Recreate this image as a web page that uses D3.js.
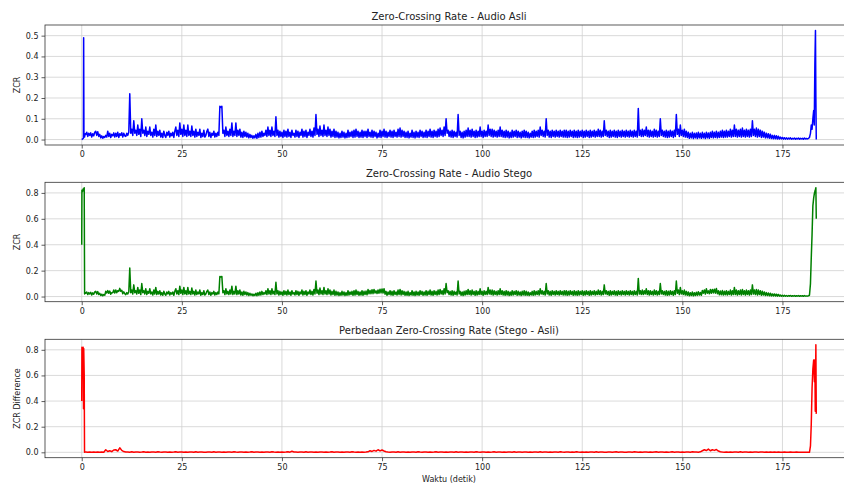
<!DOCTYPE html>
<html>
<head>
<meta charset="utf-8">
<script src="https://cdn.jsdelivr.net/npm/d3@7"></script>
<style>
body { margin: 0; background: #fff; }
svg { display: block; font-family: "DejaVu Sans", sans-serif; }
</style>
</head>
<body>
<div id="chart"></div>
<script>
// body frames start at 1.0 s; ZCR bodies every 0.25 s, difference every 0.5 s
var bodyStart = 1.0;
var zcrHop = 0.25;
var diffHop = 0.5;

var xTicks = [0, 25, 50, 75, 100, 125, 150, 175];
var yTicksAsli = [0, 0.1, 0.2, 0.3, 0.4, 0.5];
var yTicksStego = [0, 0.2, 0.4, 0.6, 0.8];
var yTicksDiff = [0, 0.2, 0.4, 0.6, 0.8];

// --- Audio Asli ---
var asliHeadTime = [0.0, 0.15, 0.3, 0.42, 0.48, 0.55, 0.7, 0.85];
var asliHeadZcr = [0.0, 0.002, 0.004, 0.006, 0.49, 0.03, 0.012, 0.028];
var asliBody = [
	// 1-10.75
	0.025,0.035,0.015,0.03,0.02,0.032,0.012,0.028,0.018,0.035, 0.04,0.02,0.038,0.015,0.025,0.008,0.018,0.006,0.015,0.01,
	0.02,0.012,0.04,0.015,0.03,0.01,0.025,0.018,0.032,0.012, 0.03,0.015,0.035,0.01,0.028,0.02,0.033,0.012,0.03,0.018,
	// 11-20.75
	0.015,0.03,0.02,0.035,0.22,0.03,0.05,0.02,0.09,0.03, 0.045,0.02,0.07,0.025,0.05,0.015,0.10,0.03,0.045,0.02,
	0.06,0.015,0.04,0.025,0.06,0.02,0.035,0.012,0.05,0.02, 0.07,0.015,0.04,0.02,0.045,0.012,0.03,0.01,0.04,0.02,
	// 21-30.75
	0.01,0.035,0.02,0.04,0.012,0.03,0.018,0.035,0.01,0.04, 0.06,0.02,0.045,0.015,0.08,0.025,0.05,0.015,0.07,0.02,
	0.045,0.015,0.07,0.02,0.04,0.015,0.065,0.02,0.04,0.012, 0.05,0.015,0.035,0.02,0.05,0.01,0.03,0.015,0.045,0.012,
	// 31-40.75
	0.02,0.04,0.05,0.015,0.035,0.01,0.03,0.02,0.04,0.012, 0.03,0.015,0.035,0.02,0.16,0.155,0.16,0.03,0.045,0.015,
	0.06,0.02,0.04,0.015,0.05,0.02,0.08,0.015,0.04,0.02, 0.08,0.015,0.045,0.02,0.05,0.012,0.035,0.01,0.04,0.015,
	// 41-50.75
	0.035,0.012,0.03,0.008,0.025,0.01,0.02,0.006,0.018,0.008, 0.025,0.006,0.03,0.01,0.035,0.012,0.04,0.015,0.03,0.02,
	0.045,0.015,0.06,0.02,0.045,0.015,0.06,0.02,0.04,0.015, 0.11,0.02,0.045,0.012,0.04,0.015,0.035,0.01,0.045,0.015,
	// 51-60.75
	0.04,0.012,0.05,0.015,0.035,0.01,0.045,0.02,0.03,0.012, 0.045,0.015,0.04,0.01,0.035,0.02,0.05,0.012,0.04,0.015,
	0.045,0.01,0.035,0.02,0.05,0.015,0.04,0.012,0.055,0.02, 0.12,0.025,0.05,0.015,0.065,0.02,0.045,0.015,0.07,0.02,
	// 61-70.75
	0.045,0.015,0.06,0.02,0.05,0.012,0.04,0.015,0.05,0.01, 0.04,0.012,0.035,0.008,0.03,0.01,0.04,0.012,0.035,0.008,
	0.03,0.01,0.045,0.012,0.035,0.015,0.04,0.01,0.045,0.012, 0.05,0.015,0.04,0.01,0.035,0.012,0.045,0.01,0.04,0.015,
	// 71-80.75
	0.04,0.01,0.05,0.015,0.035,0.012,0.045,0.01,0.04,0.015, 0.035,0.008,0.03,0.012,0.045,0.01,0.04,0.015,0.05,0.012,
	0.04,0.01,0.035,0.015,0.045,0.012,0.04,0.01,0.045,0.015, 0.035,0.012,0.05,0.015,0.055,0.012,0.045,0.015,0.04,0.01,
	// 81-90.75
	0.035,0.01,0.04,0.008,0.03,0.012,0.045,0.01,0.035,0.008, 0.04,0.012,0.035,0.01,0.045,0.015,0.04,0.01,0.035,0.012,
	0.045,0.01,0.04,0.015,0.05,0.012,0.04,0.01,0.045,0.015, 0.04,0.012,0.05,0.015,0.055,0.02,0.045,0.015,0.06,0.02,
	// 91-100.75
	0.10,0.03,0.045,0.015,0.04,0.012,0.045,0.01,0.04,0.015, 0.035,0.012,0.12,0.02,0.04,0.01,0.035,0.008,0.04,0.012,
	0.045,0.015,0.055,0.015,0.045,0.012,0.05,0.015,0.04,0.01, 0.045,0.012,0.04,0.015,0.06,0.015,0.04,0.01,0.045,0.015,
	// 101-110.75
	0.04,0.015,0.07,0.02,0.05,0.015,0.05,0.012,0.045,0.015, 0.04,0.012,0.045,0.015,0.06,0.015,0.045,0.012,0.04,0.01,
	0.045,0.012,0.04,0.008,0.035,0.01,0.045,0.012,0.04,0.015, 0.045,0.01,0.04,0.012,0.035,0.008,0.04,0.012,0.045,0.01,
	// 111-120.75
	0.04,0.01,0.035,0.008,0.03,0.012,0.04,0.01,0.045,0.012, 0.04,0.015,0.045,0.012,0.06,0.02,0.045,0.015,0.04,0.012,
	0.10,0.02,0.045,0.012,0.04,0.01,0.045,0.015,0.04,0.012, 0.045,0.015,0.04,0.012,0.045,0.015,0.04,0.012,0.045,0.012,
	// 121-130.75
	0.045,0.01,0.04,0.012,0.045,0.015,0.04,0.01,0.045,0.012, 0.04,0.01,0.045,0.012,0.04,0.015,0.045,0.01,0.04,0.012,
	0.045,0.015,0.04,0.01,0.045,0.012,0.04,0.015,0.045,0.012, 0.04,0.015,0.05,0.015,0.045,0.012,0.04,0.015,0.09,0.02,
	// 131-140.75
	0.045,0.015,0.04,0.01,0.045,0.012,0.04,0.015,0.045,0.012, 0.04,0.01,0.045,0.015,0.04,0.012,0.045,0.015,0.04,0.012,
	0.045,0.015,0.04,0.012,0.045,0.015,0.04,0.012,0.045,0.015, 0.04,0.012,0.15,0.02,0.045,0.015,0.05,0.015,0.045,0.02,
	// 141-150.75
	0.06,0.015,0.045,0.012,0.045,0.015,0.04,0.012,0.05,0.015, 0.045,0.012,0.04,0.015,0.10,0.02,0.045,0.015,0.04,0.012,
	0.045,0.01,0.04,0.012,0.045,0.015,0.04,0.01,0.045,0.015, 0.12,0.025,0.05,0.015,0.07,0.02,0.045,0.015,0.05,0.012,
	// 151-160.75
	0.04,0.01,0.035,0.006,0.03,0.008,0.035,0.005,0.03,0.008, 0.032,0.005,0.035,0.008,0.03,0.006,0.035,0.008,0.03,0.005,
	0.035,0.008,0.032,0.006,0.035,0.01,0.04,0.008,0.035,0.01, 0.04,0.008,0.035,0.01,0.04,0.012,0.045,0.01,0.04,0.012,
	// 161-170.75
	0.045,0.012,0.04,0.015,0.05,0.012,0.045,0.015,0.07,0.015, 0.05,0.012,0.045,0.015,0.05,0.012,0.055,0.015,0.045,0.012,
	0.05,0.015,0.045,0.012,0.05,0.015,0.09,0.02,0.05,0.015, 0.055,0.012,0.05,0.015,0.045,0.01,0.04,0.012,0.035,0.008,
	// 171-180.75
	0.03,0.008,0.028,0.006,0.025,0.005,0.02,0.004,0.02,0.004, 0.018,0.003,0.016,0.003,0.012,0.003,0.01,0.002,0.009,0.002,
	0.008,0.002,0.007,0.003,0.008,0.002,0.006,0.003,0.007,0.002, 0.006,0.003,0.007,0.002,0.006,0.003,0.006,0.002,0.007,0.003,
	// 181-181.5
	0.005,0.003,0.006
];
var asliTailTime = [181.75, 182.0, 182.2, 182.4, 182.6, 182.8, 182.95, 183.1, 183.25, 183.35, 183.45];
var asliTailZcr = [0.01, 0.03, 0.07, 0.05, 0.1, 0.14, 0.07, 0.36, 0.525, 0.2, 0.0];

// --- Audio Stego ---
var stegoHeadTime = [0.0, 0.05, 0.2, 0.35, 0.5, 0.62, 0.72, 0.85];
var stegoHeadZcr = [0.40, 0.82, 0.81, 0.83, 0.82, 0.84, 0.02, 0.03];
var stegoBody = [
	// 1-10.75
	0.025,0.035,0.015,0.03,0.02,0.032,0.012,0.028,0.018,0.035, 0.04,0.02,0.038,0.015,0.025,0.008,0.018,0.006,0.015,0.01,
	0.04,0.027,0.046,0.025,0.042,0.018,0.03,0.03,0.05,0.027, 0.05,0.03,0.045,0.04,0.063,0.04,0.048,0.022,0.036,0.022,
	// 11-20.75
	0.015,0.03,0.02,0.035,0.22,0.03,0.05,0.02,0.09,0.03, 0.045,0.02,0.07,0.025,0.05,0.015,0.10,0.03,0.045,0.02,
	0.06,0.015,0.04,0.025,0.06,0.02,0.035,0.012,0.05,0.02, 0.07,0.015,0.04,0.02,0.045,0.012,0.03,0.01,0.04,0.02,
	// 21-30.75
	0.01,0.035,0.02,0.04,0.012,0.03,0.018,0.035,0.01,0.04, 0.06,0.02,0.045,0.015,0.08,0.025,0.05,0.015,0.07,0.02,
	0.045,0.015,0.07,0.02,0.04,0.015,0.065,0.02,0.04,0.012, 0.05,0.015,0.035,0.02,0.05,0.01,0.03,0.015,0.045,0.012,
	// 31-40.75
	0.02,0.04,0.05,0.015,0.035,0.01,0.03,0.02,0.04,0.012, 0.03,0.015,0.035,0.02,0.155,0.15,0.155,0.03,0.045,0.015,
	0.06,0.02,0.04,0.015,0.05,0.02,0.08,0.015,0.04,0.02, 0.08,0.015,0.045,0.02,0.05,0.012,0.035,0.01,0.04,0.015,
	// 41-50.75
	0.035,0.012,0.03,0.008,0.025,0.01,0.02,0.006,0.018,0.008, 0.025,0.006,0.03,0.01,0.035,0.012,0.04,0.015,0.03,0.02,
	0.045,0.015,0.06,0.02,0.045,0.015,0.06,0.02,0.04,0.015, 0.11,0.02,0.045,0.012,0.04,0.015,0.035,0.01,0.045,0.015,
	// 51-60.75
	0.04,0.012,0.05,0.015,0.035,0.01,0.045,0.02,0.03,0.012, 0.045,0.015,0.04,0.01,0.035,0.02,0.05,0.012,0.04,0.015,
	0.045,0.01,0.035,0.02,0.05,0.015,0.04,0.012,0.055,0.02, 0.12,0.025,0.05,0.015,0.065,0.02,0.045,0.015,0.07,0.02,
	// 61-70.75
	0.045,0.015,0.06,0.02,0.05,0.012,0.04,0.015,0.05,0.01, 0.04,0.012,0.035,0.008,0.03,0.01,0.04,0.012,0.035,0.008,
	0.03,0.01,0.045,0.012,0.035,0.015,0.04,0.01,0.045,0.012, 0.05,0.015,0.04,0.01,0.035,0.012,0.045,0.01,0.04,0.015,
	// 71-80.75
	0.042,0.013,0.054,0.021,0.047,0.022,0.052,0.022,0.055,0.027, 0.044,0.023,0.05,0.026,0.056,0.028,0.058,0.027,0.06,0.018,
	0.04,0.01,0.035,0.015,0.045,0.012,0.04,0.01,0.045,0.015, 0.035,0.012,0.05,0.015,0.055,0.012,0.045,0.015,0.04,0.01,
	// 81-90.75
	0.035,0.01,0.04,0.008,0.03,0.012,0.045,0.01,0.035,0.008, 0.04,0.012,0.035,0.01,0.045,0.015,0.04,0.01,0.035,0.012,
	0.045,0.01,0.04,0.015,0.05,0.012,0.04,0.01,0.045,0.015, 0.04,0.012,0.05,0.015,0.055,0.02,0.045,0.015,0.06,0.02,
	// 91-100.75
	0.10,0.03,0.045,0.015,0.04,0.012,0.045,0.01,0.04,0.015, 0.035,0.012,0.12,0.02,0.04,0.01,0.035,0.008,0.04,0.012,
	0.045,0.015,0.055,0.015,0.045,0.012,0.05,0.015,0.04,0.01, 0.045,0.012,0.04,0.015,0.06,0.015,0.04,0.01,0.045,0.015,
	// 101-110.75
	0.04,0.015,0.07,0.02,0.05,0.015,0.05,0.012,0.045,0.015, 0.04,0.012,0.045,0.015,0.06,0.015,0.045,0.012,0.04,0.01,
	0.045,0.012,0.04,0.008,0.035,0.01,0.045,0.012,0.04,0.015, 0.045,0.01,0.04,0.012,0.035,0.008,0.04,0.012,0.045,0.01,
	// 111-120.75
	0.04,0.01,0.035,0.008,0.03,0.012,0.04,0.01,0.045,0.012, 0.04,0.015,0.045,0.012,0.06,0.02,0.045,0.015,0.04,0.012,
	0.10,0.02,0.045,0.012,0.04,0.01,0.045,0.015,0.04,0.012, 0.045,0.015,0.04,0.012,0.045,0.015,0.04,0.012,0.045,0.012,
	// 121-130.75
	0.045,0.01,0.04,0.012,0.045,0.015,0.04,0.01,0.045,0.012, 0.04,0.01,0.045,0.012,0.04,0.015,0.045,0.01,0.04,0.012,
	0.045,0.015,0.04,0.01,0.045,0.012,0.04,0.015,0.045,0.012, 0.04,0.015,0.05,0.015,0.045,0.012,0.04,0.015,0.09,0.02,
	// 131-140.75
	0.045,0.015,0.04,0.01,0.045,0.012,0.04,0.015,0.045,0.012, 0.04,0.01,0.045,0.015,0.04,0.012,0.045,0.015,0.04,0.012,
	0.045,0.015,0.04,0.012,0.045,0.015,0.04,0.012,0.045,0.015, 0.04,0.012,0.14,0.02,0.045,0.015,0.05,0.015,0.045,0.02,
	// 141-150.75
	0.06,0.015,0.045,0.012,0.045,0.015,0.04,0.012,0.05,0.015, 0.045,0.012,0.04,0.015,0.10,0.02,0.045,0.015,0.04,0.012,
	0.045,0.01,0.04,0.012,0.045,0.015,0.04,0.01,0.045,0.015, 0.12,0.025,0.05,0.015,0.07,0.02,0.045,0.015,0.05,0.012,
	// 151-160.75
	0.04,0.01,0.035,0.006,0.03,0.008,0.035,0.005,0.03,0.008, 0.033,0.009,0.037,0.011,0.031,0.01,0.047,0.026,0.05,0.019,
	0.06,0.026,0.044,0.022,0.055,0.025,0.055,0.028,0.057,0.026, 0.062,0.022,0.045,0.014,0.042,0.014,0.046,0.011,0.041,0.013,
	// 161-170.75
	0.045,0.012,0.04,0.015,0.05,0.012,0.045,0.015,0.07,0.015, 0.05,0.012,0.045,0.015,0.05,0.012,0.055,0.015,0.045,0.012,
	0.05,0.015,0.045,0.012,0.05,0.015,0.09,0.02,0.05,0.015, 0.055,0.012,0.05,0.015,0.045,0.01,0.04,0.012,0.035,0.008,
	// 171-180.75
	0.03,0.008,0.028,0.006,0.025,0.005,0.02,0.004,0.02,0.004, 0.018,0.003,0.016,0.003,0.012,0.003,0.01,0.002,0.009,0.002,
	0.008,0.002,0.007,0.003,0.008,0.002,0.006,0.003,0.007,0.002, 0.006,0.003,0.007,0.002,0.006,0.003,0.006,0.002,0.007,0.003,
	// 181-181.5
	0.005,0.003,0.006
];
var stegoTailTime = [181.75, 182.0, 182.2, 182.4, 182.6, 182.8, 183.0, 183.2, 183.35, 183.45];
var stegoTailZcr = [0.01, 0.1, 0.3, 0.48, 0.7, 0.76, 0.8, 0.82, 0.84, 0.6];

// --- Perbedaan (Stego - Asli) ---
var diffHeadTime = [0.0, 0.05, 0.2, 0.35, 0.45, 0.5, 0.62, 0.7, 0.85];
var diffHeadZcr = [0.40, 0.82, 0.80, 0.82, 0.34, 0.81, 0.61, 0.0, 0.002];
var diffBody = [
	0.002,0.0,0.003,0.001,0.002,0.0,0.003,0.001,0.002,0.001,0.02,0.006,0.012,0.005,0.018,0.02,0.01,0.035,0.015,0.006, // 1-10.5
	0.002,0.003,0.001,0.004,0.0,0.002,0.003,0.001,0.002,0.004,0.001,0.002,0.0,0.003,0.002,0.001,0.004,0.002,0.001,0.003, // 11-20.5
	0.002,0.0,0.003,0.001,0.002,0.004,0.001,0.002,0.003,0.0,0.002,0.001,0.003,0.002,0.0,0.004,0.001,0.002,0.003,0.001, // 21-30.5
	0.001,0.003,0.002,0.0,0.004,0.001,0.002,0.003,0.001,0.002,0.0,0.003,0.002,0.001,0.004,0.002,0.001,0.003,0.002,0.0, // 31-40.5
	0.003,0.001,0.002,0.004,0.0,0.002,0.003,0.001,0.002,0.0,0.003,0.002,0.001,0.004,0.002,0.001,0.003,0.0,0.002,0.001, // 41-50.5
	0.002,0.004,0.001,0.008,0.003,0.002,0.001,0.003,0.002,0.0,0.004,0.001,0.002,0.003,0.001,0.002,0.0,0.003,0.002,0.001, // 51-60.5
	0.003,0.001,0.002,0.004,0.0,0.002,0.003,0.001,0.002,0.0,0.003,0.002,0.001,0.004,0.002,0.001,0.003,0.0,0.002,0.001, // 61-70.5
	0.002,0.004,0.012,0.007,0.015,0.009,0.02,0.011,0.018,0.01,0.004,0.002,0.001,0.003,0.002,0.0,0.004,0.001,0.002,0.003, // 71-80.5
	0.001,0.002,0.0,0.003,0.002,0.001,0.004,0.002,0.001,0.003,0.002,0.0,0.003,0.001,0.002,0.004,0.001,0.002,0.003,0.0, // 81-90.5
	0.002,0.001,0.003,0.002,0.0,0.004,0.001,0.002,0.003,0.001,0.002,0.0,0.003,0.002,0.001,0.004,0.002,0.001,0.003,0.002, // 91-100.5
	0.0,0.003,0.001,0.002,0.004,0.001,0.002,0.003,0.0,0.002,0.001,0.003,0.002,0.0,0.004,0.001,0.002,0.003,0.001,0.002, // 101-110.5
	0.003,0.0,0.002,0.001,0.003,0.002,0.0,0.004,0.001,0.002,0.003,0.001,0.002,0.0,0.003,0.002,0.001,0.004,0.002,0.001, // 111-120.5
	0.002,0.003,0.0,0.002,0.001,0.004,0.002,0.001,0.003,0.0,0.002,0.001,0.003,0.002,0.0,0.004,0.001,0.002,0.003,0.001, // 121-130.5
	0.001,0.002,0.003,0.0,0.002,0.004,0.001,0.002,0.003,0.001,0.0,0.002,0.003,0.001,0.004,0.002,0.0,0.003,0.001,0.002, // 131-140.5
	0.002,0.001,0.003,0.0,0.002,0.004,0.001,0.003,0.002,0.0,0.003,0.001,0.002,0.004,0.001,0.002,0.003,0.0,0.002,0.001, // 141-150.5
	0.002,0.003,0.001,0.004,0.002,0.003,0.001,0.004,0.012,0.02,0.014,0.025,0.012,0.02,0.015,0.022,0.01,0.004,0.002,0.001, // 151-160.5
	0.003,0.0,0.002,0.001,0.003,0.002,0.0,0.004,0.001,0.002,0.003,0.001,0.002,0.0,0.003,0.002,0.001,0.003,0.002,0.0, // 161-170.5
	0.002,0.001,0.003,0.0,0.002,0.001,0.002,0.0,0.001,0.002,0.0,0.001,0.002,0.0,0.001,0.002,0.0,0.001,0.001,0.0, // 171-180.5
	0.001,0.0 // 181-181.5
];
var diffTailTime = [181.75, 182.0, 182.2, 182.4, 182.6, 182.8, 183.0, 183.1, 183.2, 183.35, 183.45];
var diffTailZcr = [0.0, 0.05, 0.22, 0.5, 0.65, 0.72, 0.55, 0.72, 0.32, 0.84, 0.3];

function buildSeries(headT, headV, body, step, tailT, tailV) {
	var out = [];
	headT.forEach(function (t, i) { out.push({ t: t, v: headV[i] }); });
	body.forEach(function (v, i) { out.push({ t: bodyStart + i * step, v: v }); });
	tailT.forEach(function (t, i) { out.push({ t: t, v: tailV[i] }); });
	return out;
}

var panels = [
	{
		title: "Zero-Crossing Rate - Audio Asli", ylabel: "ZCR", color: "#0000ff",
		data: buildSeries(asliHeadTime, asliHeadZcr, asliBody, zcrHop, asliTailTime, asliTailZcr),
		yTicks: yTicksAsli, top: 25, bottom: 145
	},
	{
		title: "Zero-Crossing Rate - Audio Stego", ylabel: "ZCR", color: "#008000",
		data: buildSeries(stegoHeadTime, stegoHeadZcr, stegoBody, zcrHop, stegoTailTime, stegoTailZcr),
		yTicks: yTicksStego, top: 182.3, bottom: 301.7
	},
	{
		title: "Perbedaan Zero-Crossing Rate (Stego - Asli)", ylabel: "ZCR Difference", color: "#ff0000",
		data: buildSeries(diffHeadTime, diffHeadZcr, diffBody, diffHop, diffTailTime, diffTailZcr),
		yTicks: yTicksDiff, top: 339.3, bottom: 457.7
	}
];

var width = 844, height = 484;
var left = 45, right = 853;

var svg = d3.select("#chart").append("svg")
	.attr("width", width)
	.attr("height", height);

// matplotlib-like 5% margins on the data extent
function padded(ext) {
	var p = (ext[1] - ext[0]) * 0.05;
	return [ext[0] - p, ext[1] + p];
}

panels.forEach(function (p, k) {
	var x = d3.scaleLinear()
		.domain(padded(d3.extent(p.data, function (d) { return d.t; })))
		.range([left, right]);
	var y = d3.scaleLinear()
		.domain(padded(d3.extent(p.data, function (d) { return d.v; })))
		.range([p.bottom, p.top]);

	var g = svg.append("g");

	// grid
	g.selectAll(".gx").data(xTicks).enter().append("line")
		.attr("x1", function (d) { return x(d); })
		.attr("x2", function (d) { return x(d); })
		.attr("y1", p.top).attr("y2", p.bottom)
		.attr("stroke", "#d0d0d0").attr("stroke-width", 0.8);
	g.selectAll(".gy").data(p.yTicks).enter().append("line")
		.attr("x1", left).attr("x2", right)
		.attr("y1", function (d) { return y(d); })
		.attr("y2", function (d) { return y(d); })
		.attr("stroke", "#d0d0d0").attr("stroke-width", 0.8);

	g.append("clipPath").attr("id", "clip" + k)
		.append("rect")
		.attr("x", left).attr("y", p.top)
		.attr("width", right - left).attr("height", p.bottom - p.top);

	var line = d3.line()
		.x(function (d) { return x(d.t); })
		.y(function (d) { return y(d.v); });

	g.append("path")
		.datum(p.data)
		.attr("clip-path", "url(#clip" + k + ")")
		.attr("fill", "none")
		.attr("stroke", p.color)
		.attr("stroke-width", 1.5)
		.attr("stroke-linejoin", "round")
		.attr("d", line);

	// axes
	var yAxis = g.append("g")
		.attr("transform", "translate(" + left + ",0)")
		.call(d3.axisLeft(y).tickValues(p.yTicks).tickFormat(d3.format(".1f"))
			.tickSize(3.5).tickPadding(3).tickSizeOuter(0));
	var xAxis = g.append("g")
		.attr("transform", "translate(0," + p.bottom + ")")
		.call(d3.axisBottom(x).tickValues(xTicks).tickFormat(d3.format("d"))
			.tickSize(3.5).tickPadding(3).tickSizeOuter(0));
	[yAxis, xAxis].forEach(function (a) {
		a.select(".domain").remove();
		a.selectAll("line").attr("stroke", "#333").attr("stroke-width", 0.8);
		a.selectAll("text").attr("fill", "#222").style("font-size", "8px")
			.style("font-family", "DejaVu Sans");
	});

	// spines
	g.append("rect")
		.attr("x", left).attr("y", p.top)
		.attr("width", right - left).attr("height", p.bottom - p.top)
		.attr("fill", "none").attr("stroke", "#333").attr("stroke-width", 0.8);

	g.append("text")
		.attr("x", (left + right) / 2)
		.attr("y", p.top - 5)
		.attr("text-anchor", "middle")
		.attr("fill", "#222")
		.style("font-size", "10px")
		.text(p.title);

	g.append("text")
		.attr("transform", "translate(20," + ((p.top + p.bottom) / 2) + ") rotate(-90)")
		.attr("text-anchor", "middle")
		.attr("fill", "#222")
		.style("font-size", "8px")
		.text(p.ylabel);
});

svg.append("text")
	.attr("x", (left + right) / 2)
	.attr("y", 482)
	.attr("text-anchor", "middle")
	.attr("fill", "#222")
	.style("font-size", "8px")
	.text("Waktu (detik)");
</script>
</body>
</html>
